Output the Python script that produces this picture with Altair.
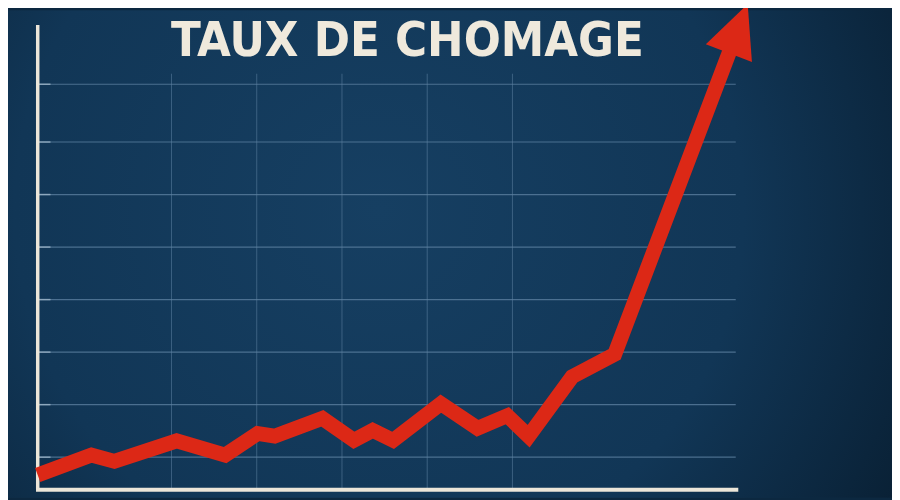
import altair as alt
import pandas as pd

# ---- data ----
period = [0.43, 1.06, 1.33, 2.06, 2.63, 3.01, 3.21, 3.77, 4.14, 4.36, 4.60,
          5.16, 5.59, 5.94, 6.19, 6.70, 7.20, 8.65]
rate = [0.66, 1.04, 0.92, 1.31, 1.04, 1.45, 1.40, 1.74, 1.32, 1.51, 1.32,
        2.02, 1.55, 1.79, 1.40, 2.53, 2.96, 9.16]

grid_y = [1, 2, 3, 4, 5, 6, 7, 8.1]
grid_x = [2, 3, 4, 5, 6]
x_left, x_right, x_axis_end = 0.43, 8.62, 8.65
y_bottom, y_axis_top, y_vgrid_top = 0.38, 9.23, 8.30
tick_end = 0.58
arrow_angle = 21

title_text = "TAUX DE CHOMAGE"

RED = "#dc2816"
CREAM = "#ece6d9"
GRID = "#5f83a3"

xs = alt.Scale(domain=[2, 6], range=[165, 509], zero=False, nice=False)
ys = alt.Scale(domain=[1, 7], range=[451, 133], zero=False, nice=False)

def X(f):
    return alt.X(f, type="quantitative", scale=xs, axis=None)

def Y(f):
    return alt.Y(f, type="quantitative", scale=ys, axis=None)

hgrid_df = pd.DataFrame({"gy": grid_y, "x1": x_left, "x2": x_right, "t2": tick_end})
vgrid_df = pd.DataFrame({"gx": grid_x, "y1": y_bottom, "y2": y_vgrid_top})
axis_v_df = pd.DataFrame({"x": [x_left], "y1": [y_bottom], "y2": [y_axis_top]})
axis_h_df = pd.DataFrame({"y": [y_bottom], "x1": [x_left - 0.02], "x2": [x_axis_end]})
line_df = pd.DataFrame({"period": period, "rate": rate, "order": list(range(len(period)))})
head_df = line_df.tail(1)

bg_grad = {"gradient": "radial", "x1": 0.42, "y1": 0.45, "r1": 0.0,
           "x2": 0.42, "y2": 0.45, "r2": 0.75,
           "stops": [{"offset": 0, "color": "#163f62"},
                     {"offset": 0.55, "color": "#113656"},
                     {"offset": 1, "color": "#071a2b"}]}

bg = alt.Chart(pd.DataFrame({"a": [0]})).mark_rect(color=bg_grad, strokeWidth=0).encode(
    x=alt.value(0), x2=alt.value(892), y=alt.value(0), y2=alt.value(492))

hgrid = alt.Chart(hgrid_df).mark_rule(color=GRID, strokeWidth=1.2, opacity=0.75).encode(
    y=Y("gy"), x=X("x1"), x2="x2")
ticks = alt.Chart(hgrid_df).mark_rule(color="#9fb6c9", strokeWidth=1.5, opacity=0.8).encode(
    y=Y("gy"), x=X("x1"), x2="t2")
vgrid = alt.Chart(vgrid_df).mark_rule(color=GRID, strokeWidth=1, opacity=0.55).encode(
    x=X("gx"), y=Y("y1"), y2="y2")
axis_v = alt.Chart(axis_v_df).mark_rule(color=CREAM, strokeWidth=3.5).encode(
    x=X("x"), y=Y("y1"), y2="y2")
axis_h = alt.Chart(axis_h_df).mark_rule(color=CREAM, strokeWidth=4).encode(
    y=Y("y"), x=X("x1"), x2="x2")
line = alt.Chart(line_df).mark_line(color=RED, strokeWidth=15, strokeJoin="miter",
                                    strokeCap="butt").encode(
    x=X("period"), y=Y("rate"), order="order")
head = alt.Chart(head_df).mark_point(
    shape="M0,-1L-0.94,1L0.94,1Z", filled=True, size=2809, angle=arrow_angle,
    color=RED, opacity=1, strokeWidth=0).encode(x=X("period"), y=Y("rate"))

title = alt.Chart(pd.DataFrame({"t": [title_text]})).mark_text(
    font="DejaVu Sans Condensed, Liberation Sans Narrow, Roboto, sans-serif",
    fontWeight="bold", fontSize=49, color="#efe9dc",
    align="center", baseline="alphabetic").encode(
    text="t:N", x=alt.value(403), y=alt.value(46))

chart = alt.layer(bg, vgrid, hgrid, ticks, axis_v, axis_h, line, head, title).properties(
    width=892, height=492, padding=0, autosize=alt.AutoSizeParams(type="none"),
    background="#0c2840",
).configure_view(strokeWidth=0)

chart.save("out.html", embed_options={"renderer": "svg", "actions": False})
